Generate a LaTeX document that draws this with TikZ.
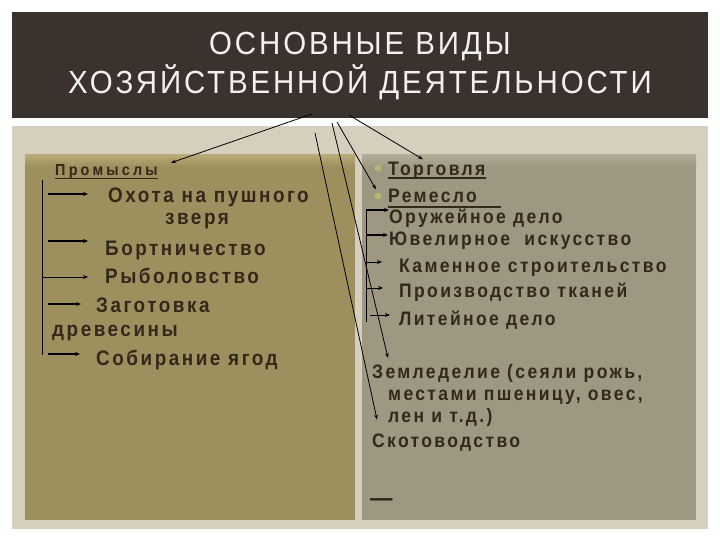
\documentclass[tikz,border=0pt]{standalone}
\usepackage{fontspec}
\setmainfont{Liberation Sans}
\newfontfamily\titlefont{Liberation Sans}[FakeStretch=0.92,LetterSpace=9]
\newfontfamily\bodyfont{Liberation Sans}[FakeStretch=0.9,LetterSpace=12]
\newfontfamily\smallfont{Liberation Sans}[FakeStretch=0.9,LetterSpace=20]
\usetikzlibrary{arrows.meta}
\definecolor{hdrbrown}{RGB}{58,50,44}
\definecolor{framebeige}{RGB}{213,208,189}
\definecolor{olivepanel}{RGB}{158,143,94}
\definecolor{olivelight}{RGB}{184,170,118}
\definecolor{greypanel}{RGB}{158,151,130}
\definecolor{greylight}{RGB}{178,172,150}
\definecolor{inkbrown}{RGB}{52,40,27}
\definecolor{bulletgreen}{RGB}{182,180,112}
\definecolor{titlewhite}{RGB}{244,241,236}
\begin{document}
\begin{tikzpicture}[x=1pt,y=-1pt,
    lefttxt/.style={anchor=base west,inner sep=0pt,text=inkbrown,font=\bodyfont\bfseries\fontsize{21}{22}\selectfont},
    righttxt/.style={anchor=base west,inner sep=0pt,text=inkbrown,font=\bodyfont\bfseries\fontsize{19.5}{22}\selectfont},
    sidearr/.style={-{Stealth[length=5pt,width=4pt]},line width=1.3pt},
    longarr/.style={-{Stealth[length=5pt,width=3.5pt]},line width=0.8pt},
    uline/.style={line width=1.5pt,draw=inkbrown}]
    \useasboundingbox (0,0) rectangle (720,540);
    %background
    \fill[white] (0,0) rectangle (720,540);
    \fill[framebeige] (12,126) rectangle (708,529);
    \fill[hdrbrown] (12,12) rectangle (708,118);
    \fill[olivepanel] (25,155) rectangle (355,520);
    \fill[greypanel] (362,155) rectangle (696,520);
    \shade[top color=olivelight,bottom color=olivepanel] (25,155) rectangle (355,167);
    \shade[top color=greylight,bottom color=greypanel] (362,155) rectangle (696,167);

    %title
    \node[anchor=north,align=center,inner sep=0pt,text=titlewhite,font=\titlefont\fontsize{32}{39}\selectfont]
        (title) at (360,31.5) {ОСНОВНЫЕ ВИДЫ\\ХОЗЯЙСТВЕННОЙ ДЕЯТЕЛЬНОСТИ};

    %promysly
    \node[lefttxt,font=\smallfont\bfseries\fontsize{16}{18}\selectfont] (prom) at (55,176) {Промыслы};
    \draw[uline] ([yshift=-2.5pt]prom.base west) -- ([yshift=-2.5pt]prom.base east);
    \node[lefttxt,anchor=north west,align=left] (ohota) at (108,188) {Охота на пушного\\\hspace*{57pt}зверя};
    \node[lefttxt] (bort) at (105,255) {Бортничество};
    \node[lefttxt] (ryb) at (105,283) {Рыболовство};
    \node[lefttxt,anchor=north west,align=left,font=\bodyfont\bfseries\fontsize{21}{24}\selectfont]
        (zag) at (52,298) {\hspace*{44pt}Заготовка\\древесины};
    \node[lefttxt] (sobir) at (96,365) {Собирание ягод};

    \coordinate (ltop) at (42,180);
    \coordinate (lbot) at (42,355);
    \coordinate (la1) at (48,194);
    \coordinate (la2) at (48,241);
    \coordinate (la3) at (43,277);
    \coordinate (la4) at (48,304);
    \coordinate (la5) at (48,354);
    \coordinate (zagtip) at (81,304);
    \draw[line width=1pt] (ltop) -- (lbot);
    \draw[sidearr,line width=1.8pt,shorten >=20pt] (la1) -- (la1 -| ohota.west);
    \draw[sidearr,shorten >=17pt] (la2) -- (la2 -| bort.west);
    \draw[sidearr,line width=1pt,shorten >=17pt] (la3) -- (la3 -| ryb.west);
    \draw[sidearr,line width=1.8pt] (la4) -- (zagtip);
    \draw[sidearr,line width=1.8pt,shorten >=16pt] (la5) -- (la5 -| sobir.west);

    %remeslo, torgovlya
    \fill[bulletgreen] (378,168) circle (3.5);
    \fill[bulletgreen] (378,196) circle (3.5);
    \node[righttxt] (torg) at (388,176) {Торговля};
    \draw[uline,line width=2pt] ([yshift=-2.5pt]torg.base west) -- ([yshift=-2.5pt]torg.base east);
    \node[righttxt] (rem) at (388,203) {Ремесло};
    \draw[uline,line width=2pt] ([yshift=-4pt]rem.base west) -- ([xshift=24pt,yshift=-4pt]rem.base east);
    \node[righttxt] (oruzh) at (389,223) {Оружейное дело};
    \node[righttxt] (juvel) at (389,245) {Ювелирное\ \ искусство};
    \node[righttxt] (kamen) at (399,272) {Каменное строительство};
    \node[righttxt] (tkan) at (399,297) {Производство тканей};
    \node[righttxt] (lit) at (399,325) {Литейное дело};

    \coordinate (rtop) at (366,210);
    \coordinate (rbot) at (366,322);
    \coordinate (ra2) at (366,235);
    \coordinate (ra3) at (366,262);
    \coordinate (ra4) at (366,288);
    \coordinate (ra5) at (370,315);
    \draw[line width=1pt] (rtop) -- (rbot);
    \draw[sidearr] (rtop) -- (rtop -| oruzh.west);
    \draw[sidearr,shorten >=1pt] (ra2) -- (ra2 -| juvel.west);
    \draw[sidearr,line width=1pt,shorten >=17pt] (ra3) -- (ra3 -| kamen.west);
    \draw[sidearr,line width=1pt,shorten >=16pt] (ra4) -- (ra4 -| tkan.west);
    \draw[sidearr,line width=1pt,shorten >=9pt] (ra5) -- (ra5 -| lit.west);

    %zemledelie
    \node[righttxt,anchor=north west,align=left,font=\bodyfont\bfseries\fontsize{19.5}{22}\selectfont] (zeml) at (372,364)
        {Земледелие (сеяли рожь,\\\hspace*{16pt}местами пшеницу, овес,\\\hspace*{16pt}лен и т.д.)};
    \node[righttxt] (skot) at (372,447) {Скотоводство};
    \node[righttxt,font=\bodyfont\bfseries\fontsize{25}{25}\selectfont] (dash) at (370,506) {—};

    %from the title
    \coordinate (h1) at (312,114);
    \coordinate (h2) at (349,115);
    \coordinate (h3) at (337,122);
    \coordinate (h4) at (332,123);
    \coordinate (h5) at (315,133);
    \draw[longarr] (h1) -- ([xshift=13pt,yshift=2pt]prom.north east);
    \draw[longarr] (h2) -- ([xshift=35pt,yshift=3pt]torg.north west);
    \draw[longarr] (h3) -- ([xshift=-12pt]rem.north west);
    \draw[longarr] (h4) -- ([xshift=16pt,yshift=6pt]zeml.north west);
    \draw[longarr] (h5) -- ([xshift=5pt,yshift=13.5pt]skot.north west);
\end{tikzpicture}
\end{document}
